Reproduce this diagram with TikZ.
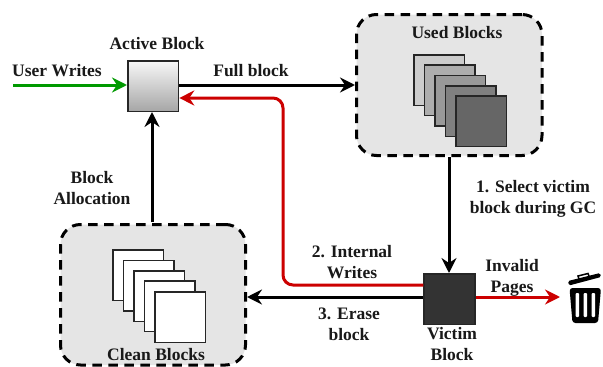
\documentclass[tikz,border=0pt]{standalone}
\usepackage{fontspec}
\setmainfont{Liberation Serif}
\usetikzlibrary{arrows.meta,positioning,calc}
\tikzset{
  x=1pt,y=-1pt,
  lbl/.style={font=\fontsize{17.5}{21}\selectfont\bfseries,align=center,inner sep=0pt,text=black!90},
  pool/.style={draw=black,fill=black!10,line width=3pt,rounded corners=20pt,dash pattern=on 9.5pt off 6.5pt,inner sep=0pt,anchor=north west},
  blk/.style={draw=black!85,line width=1.7pt,minimum width=50.5pt,minimum height=50.5pt,inner sep=0pt,anchor=north west},
  blkbig/.style={blk,line width=1.8pt},
  conn/.style={line width=3pt,-{Stealth[length=15pt,width=15pt,inset=5pt]}},
}
\definecolor{gcred}{HTML}{CC0000}
\definecolor{gcgreen}{HTML}{009900}
\begin{document}
\begin{tikzpicture}
\useasboundingbox (0,0) rectangle (603,367);
% pools
\node[pool,minimum width=185.5pt,minimum height=141pt] (used) at (355,13) {};
\node[pool,minimum width=185pt,minimum height=140.5pt] (clean) at (59,223) {};
% used stack
\node[blk,fill=black!20] (u1) at (413,54) {};
\node[blk,fill=black!32] (u2) at (423.5,64) {};
\node[blk,fill=black!40] (u3) at (434,74.5) {};
\node[blk,fill=black!50] (u4) at (444.5,85) {};
\node[blk,fill=black!60] (u5) at (455,95) {};
% clean stack
\node[blk,fill=white] (c1) at (112,249) {};
\node[blk,fill=white] (c2) at (122.5,259.5) {};
\node[blk,fill=white] (c3) at (133,270) {};
\node[blk,fill=white] (c4) at (143.5,280) {};
\node[blk,fill=white] (c5) at (154,291) {};
% blocks
\node[blkbig,top color=black!3,bottom color=black!35] (active) at (127,60) {};
\node[blkbig,fill=black!80] (victim) at (423.3,273) {};
% free ends
\coordinate (uw) at (13,85);
\coordinate (inv) at (560,297);
% connectors
\draw[conn,gcgreen] (uw) -- (active.west |- uw);
\draw[conn,black] (active.east |- uw) -- (used.west |- uw);
\draw[conn,gcred,rounded corners=10pt] (victim.west |- 0,285) -- (283,285) -- (283,98) -- (active.east |- 0,98);
\draw[conn,black] (152,222) -- (152,112);
\draw[conn,black] (449,157) -- (449,273);
\draw[conn,black] (victim.west |- 0,297) -- (clean.east |- 0,297);
\draw[conn,gcred] (victim.east |- 0,297) -- (inv);
% labels
\node[lbl] (tactive) at (157,44) {Active Block};
\node[lbl] (tuser) at (57,70.5) {User Writes};
\node[lbl] (tfull) at (251,70.5) {Full block};
\node[lbl] (tused) at (457,33) {Used Blocks};
\node[lbl] (tsel) at (533,199) {1. Select victim\\block during GC};
\node[lbl] (talloc) at (92,188.5) {Block\\Allocation};
\node[lbl] (tint) at (352,262) {2. Internal\\Writes};
\node[lbl] (ters) at (349,324) {3. Erase\\block};
\node[lbl] (tinv) at (512,278) {Invalid\\Pages};
\node[lbl] (tvic) at (452,344.5) {Victim\\Block};
\node[lbl] (tcl) at (156,355) {Clean Blocks};
% trash can
\fill[black,rounded corners=1.5pt] (568,281) -- (600,273) -- (601,277) -- (569,285.5) -- cycle;
\draw[black,line width=1.5pt] (579,279) -- (578,276) -- (588,273.5) -- (589,276);
\fill[black,rounded corners=3pt] (569.5,288) -- (601,288) -- (598,323) -- (572.5,323) -- cycle;
\fill[white,rounded corners=1pt] (575.5,293) rectangle (579,317);
\fill[white,rounded corners=1pt] (583.5,293) rectangle (587,317);
\fill[white,rounded corners=1pt] (591.5,293) rectangle (595,317);
\end{tikzpicture}
\end{document}
